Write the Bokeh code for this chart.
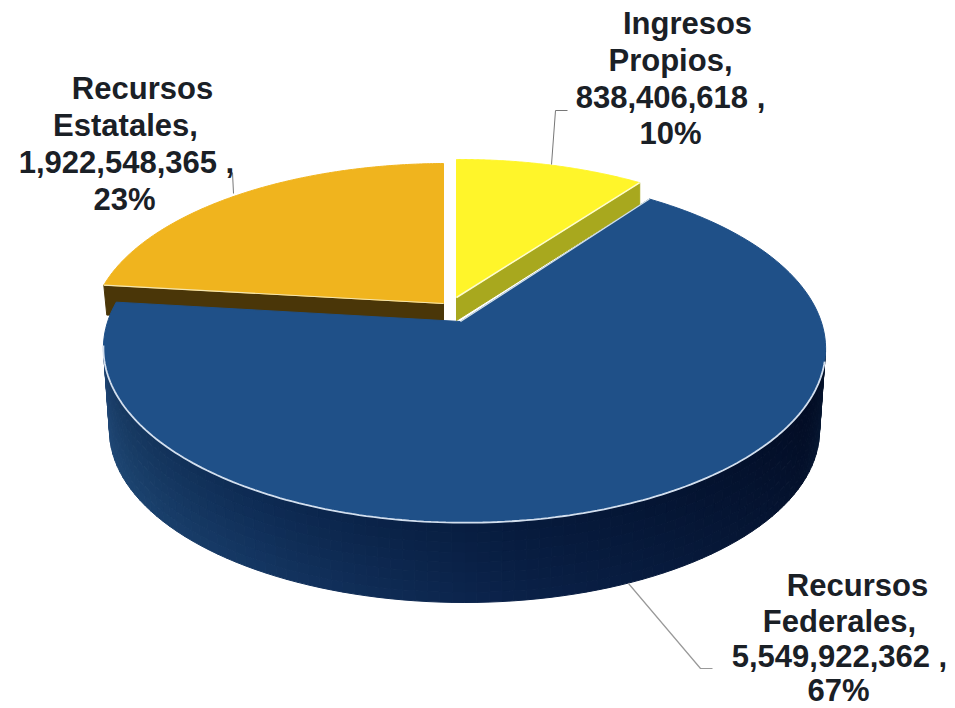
import numpy as np
from bokeh.plotting import figure
from bokeh.models import Range1d
from bokeh.core.properties import value
from bokeh.embed import file_html
from bokeh.resources import INLINE

categories = ["Ingresos Propios", "Recursos Federales", "Recursos Estatales"]
amounts = [838406618, 5549922362, 1922548365]
percents = [10, 67, 23]

TAU = 2 * np.pi
fractions = np.array(amounts, dtype=float) / sum(amounts)
edges = np.concatenate([[0.0], np.cumsum(fractions)]) * TAU

# perspective view of a slice: tip in page pixels, half-axes, foreshortening
K, M = 0.155, -0.011
VIEW = {
    "Ingresos Propios": dict(tip=(456, 297), A=346, B=159.4),
    "Recursos Federales": dict(tip=(460, 321), A=356.7, B=170),
    "Recursos Estatales": dict(tip=(443, 303), A=352, B=161.7),
}

def project(name, theta):
    v = VIEW[name]
    u_, v_ = np.sin(theta), np.cos(theta)
    den = 1 + K * v_ + M * u_
    return v["tip"][0] + v["A"] * u_ / den, v["tip"][1] - v["B"] * v_ / den

def arc(name, t0, t1, n=160):
    return project(name, np.linspace(t0, t1, n))

def top_face(name, t0, t1):
    x, y = arc(name, t0, t1)
    tx, ty = VIEW[name]["tip"]
    return np.r_[tx, x], np.r_[ty, y]

p = figure(width=955, height=708, output_backend="svg", toolbar_location=None,
           x_range=Range1d(0, 955), y_range=Range1d(708, 0), min_border=0)
p.axis.visible = False
p.grid.visible = False
p.outline_line_color = None
p.background_fill_color = "white"
p.border_fill_color = "white"

def hex2rgb(c):
    return np.array([int(c[i:i + 2], 16) for i in (1, 3, 5)], dtype=float)

def ramp(stops, s):
    pos = [q[0] for q in stops]
    rgb = np.array([hex2rgb(q[1]) for q in stops])
    return np.array([np.interp(s, pos, rgb[:, j]) for j in range(3)])

def tohex(r):
    return "#%02x%02x%02x" % tuple(int(round(q)) for q in r)

# --- blue drum wall -------------------------------------------------------
WALL_TOP = [(0, "#051228"), (0.1, "#020c24"), (0.45, "#061a3c"), (0.7, "#0d2a52"),
            (0.9, "#163860"), (1, "#1c3f6c")]
WALL_LOW = [(0, "#081a36"), (0.1, "#04112c"), (0.45, "#0a2148"), (0.7, "#143662"),
            (0.9, "#1c4470"), (1, "#204876")]
phi = np.linspace(0, np.pi, 91)
rim_x, rim_y = 464 + 361 * np.cos(phi), 348 + 174 * np.sin(phi)
low_x, low_y = 464 + 355 * np.cos(phi), 430 + 172 * np.sin(phi)
bands = np.linspace(0, 1, 9)
xs, ys, cols = [], [], []
for i in range(len(phi) - 1):
    s = i / (len(phi) - 2)
    c0, c1 = ramp(WALL_TOP, s), ramp(WALL_LOW, s)
    for j in range(len(bands) - 1):
        a, b_ = bands[j], bands[j + 1]
        xs.append([rim_x[i] + (low_x[i] - rim_x[i]) * a, rim_x[i + 1] + (low_x[i + 1] - rim_x[i + 1]) * a,
                   rim_x[i + 1] + (low_x[i + 1] - rim_x[i + 1]) * b_, rim_x[i] + (low_x[i] - rim_x[i]) * b_])
        ys.append([rim_y[i] + (low_y[i] - rim_y[i]) * a, rim_y[i + 1] + (low_y[i + 1] - rim_y[i + 1]) * a,
                   rim_y[i + 1] + (low_y[i + 1] - rim_y[i + 1]) * b_, rim_y[i] + (low_y[i] - rim_y[i]) * b_])
        cols.append(tohex(c0 + (c1 - c0) * (a + b_) / 2))
p.patches(xs, ys, fill_color=cols, line_color=cols, line_width=1)

# --- gold wall + face -----------------------------------------------------
g = "Recursos Estatales"
gx, gy = project(g, edges[3] - fractions[2] * TAU)
tx, ty = VIEW[g]["tip"]
p.patch([gx, tx, tx, gx + 3], [gy, ty, ty + 17, gy + 30],
        fill_color="#4a3608", line_color="#4a3608")
fx, fy = top_face(g, edges[2], edges[3])
p.patch(fx, fy, fill_color="#f0b41e", line_color="#f0b41e")
p.line([gx, tx], [gy, ty], line_color="#f5e6b0", line_width=1.2)

# --- yellow wall + face ---------------------------------------------------
y_ = "Ingresos Propios"
yx, yy = project(y_, edges[1])
tx, ty = VIEW[y_]["tip"]
p.patch([tx, yx, yx, tx], [ty, yy, yy + 22, ty + 23],
        fill_color="#a8a81e", line_color="#a8a81e")
fx, fy = top_face(y_, edges[0], edges[1])
p.patch(fx, fy, fill_color="#fff52a", line_color="#fff52a")
p.line([tx, yx], [ty, yy], line_color="#fdfbd0", line_width=1.5)

# --- blue face ------------------------------------------------------------
b = "Recursos Federales"
fx, fy = top_face(b, edges[1], edges[2])
p.patch(fx, fy, fill_color="#1f5088", line_color="#1f5088")
tx, ty = VIEW[b]["tip"]
bx, by = project(b, edges[1])
p.line([tx, bx], [ty, by], line_color="#d4e2ea", line_width=1.3)
rx, ry = arc(b, np.radians(103), np.radians(262))
p.line(rx, ry, line_color="#d3dfee", line_width=1.8)

# --- leader lines ---------------------------------------------------------
p.line([551, 555, 567], [164, 110, 110], line_color="#777777", line_width=1)
p.line([233, 232], [193, 172], line_color="#777777", line_width=1)
p.line([628, 700, 712], [583, 668, 668], line_color="#999999", line_width=1.2)

# --- labels ---------------------------------------------------------------
def label_lines(name, amount, pct):
    head = name.split(" ")
    return [head[0], head[1] + ",", f"{amount:,} ,", f"{pct}%"]

PLACE = {
    "Ingresos Propios": ([687, 670, 670, 670], [23, 60, 97, 133]),
    "Recursos Federales": ([857, 839, 839, 838], [585, 621, 656, 690]),
    "Recursos Estatales": ([142, 125, 126, 124], [88, 125, 162, 199]),
}
for name, amt, pct in zip(categories, amounts, percents):
    lx, ly = PLACE[name]
    p.text(lx, ly, text=label_lines(name, amt, pct), text_align="center",
           text_baseline="middle", text_font=value("Liberation Sans"),
           text_font_style="bold", text_font_size="31px", text_color="#1a2026")

open("out.html", "w").write(file_html(p, INLINE))
